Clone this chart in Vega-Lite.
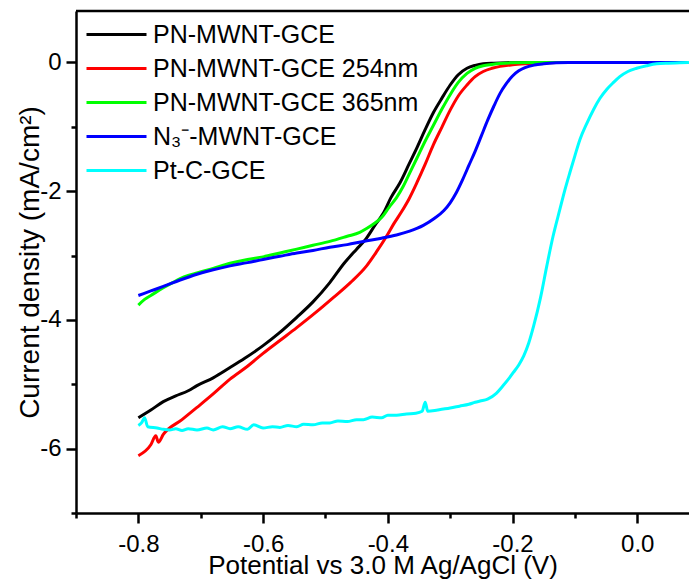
{
"$schema": "https://vega.github.io/schema/vega-lite/v6.json",
"width": 613, "height": 502,
"autosize": "none",
"padding": {"left": 76, "top": 11, "right": 0, "bottom": 67},
"background": "white",
"config": {"view": {"stroke": null}, "font": "Liberation Sans"},
"layer": [
{
"data": {"values": [
{"s":"PN-MWNT-GCE","E":-0.80,"j":-5.52},{"s":"PN-MWNT-GCE","E":-0.78,"j":-5.40},{"s":"PN-MWNT-GCE","E":-0.76,"j":-5.27},{"s":"PN-MWNT-GCE","E":-0.74,"j":-5.18},{"s":"PN-MWNT-GCE","E":-0.72,"j":-5.10},{"s":"PN-MWNT-GCE","E":-0.706,"j":-5.02},{"s":"PN-MWNT-GCE","E":-0.68,"j":-4.90},{"s":"PN-MWNT-GCE","E":-0.653,"j":-4.74},{"s":"PN-MWNT-GCE","E":-0.63,"j":-4.60},{"s":"PN-MWNT-GCE","E":-0.60,"j":-4.40},{"s":"PN-MWNT-GCE","E":-0.575,"j":-4.21},{"s":"PN-MWNT-GCE","E":-0.546,"j":-3.96},{"s":"PN-MWNT-GCE","E":-0.52,"j":-3.72},{"s":"PN-MWNT-GCE","E":-0.493,"j":-3.42},{"s":"PN-MWNT-GCE","E":-0.47,"j":-3.12},{"s":"PN-MWNT-GCE","E":-0.45,"j":-2.90},{"s":"PN-MWNT-GCE","E":-0.435,"j":-2.74},{"s":"PN-MWNT-GCE","E":-0.42,"j":-2.52},{"s":"PN-MWNT-GCE","E":-0.407,"j":-2.34},{"s":"PN-MWNT-GCE","E":-0.395,"j":-2.10},{"s":"PN-MWNT-GCE","E":-0.38,"j":-1.86},{"s":"PN-MWNT-GCE","E":-0.366,"j":-1.58},{"s":"PN-MWNT-GCE","E":-0.353,"j":-1.32},{"s":"PN-MWNT-GCE","E":-0.34,"j":-1.04},{"s":"PN-MWNT-GCE","E":-0.327,"j":-0.78},{"s":"PN-MWNT-GCE","E":-0.313,"j":-0.55},{"s":"PN-MWNT-GCE","E":-0.30,"j":-0.35},{"s":"PN-MWNT-GCE","E":-0.287,"j":-0.19},{"s":"PN-MWNT-GCE","E":-0.273,"j":-0.09},{"s":"PN-MWNT-GCE","E":-0.26,"j":-0.045},{"s":"PN-MWNT-GCE","E":-0.247,"j":-0.02},{"s":"PN-MWNT-GCE","E":-0.23,"j":-0.01},{"s":"PN-MWNT-GCE","E":-0.21,"j":-0.003},{"s":"PN-MWNT-GCE","E":-0.18,"j":0},{"s":"PN-MWNT-GCE","E":0.08,"j":0},

{"s":"PN-MWNT-GCE 254nm","E":-0.80,"j":-6.11},{"s":"PN-MWNT-GCE 254nm","E":-0.78,"j":-5.94},{"s":"PN-MWNT-GCE 254nm","E":-0.772,"j":-5.80},{"s":"PN-MWNT-GCE 254nm","E":-0.768,"j":-5.90},{"s":"PN-MWNT-GCE 254nm","E":-0.76,"j":-5.78},{"s":"PN-MWNT-GCE 254nm","E":-0.73,"j":-5.55},{"s":"PN-MWNT-GCE 254nm","E":-0.706,"j":-5.36},{"s":"PN-MWNT-GCE 254nm","E":-0.68,"j":-5.15},{"s":"PN-MWNT-GCE 254nm","E":-0.653,"j":-4.92},{"s":"PN-MWNT-GCE 254nm","E":-0.625,"j":-4.72},{"s":"PN-MWNT-GCE 254nm","E":-0.60,"j":-4.52},{"s":"PN-MWNT-GCE 254nm","E":-0.573,"j":-4.32},{"s":"PN-MWNT-GCE 254nm","E":-0.546,"j":-4.12},{"s":"PN-MWNT-GCE 254nm","E":-0.515,"j":-3.88},{"s":"PN-MWNT-GCE 254nm","E":-0.487,"j":-3.65},{"s":"PN-MWNT-GCE 254nm","E":-0.46,"j":-3.42},{"s":"PN-MWNT-GCE 254nm","E":-0.434,"j":-3.16},{"s":"PN-MWNT-GCE 254nm","E":-0.418,"j":-2.94},{"s":"PN-MWNT-GCE 254nm","E":-0.402,"j":-2.70},{"s":"PN-MWNT-GCE 254nm","E":-0.39,"j":-2.50},{"s":"PN-MWNT-GCE 254nm","E":-0.378,"j":-2.32},{"s":"PN-MWNT-GCE 254nm","E":-0.366,"j":-2.12},{"s":"PN-MWNT-GCE 254nm","E":-0.353,"j":-1.86},{"s":"PN-MWNT-GCE 254nm","E":-0.34,"j":-1.58},{"s":"PN-MWNT-GCE 254nm","E":-0.327,"j":-1.28},{"s":"PN-MWNT-GCE 254nm","E":-0.313,"j":-1.00},{"s":"PN-MWNT-GCE 254nm","E":-0.30,"j":-0.74},{"s":"PN-MWNT-GCE 254nm","E":-0.287,"j":-0.52},{"s":"PN-MWNT-GCE 254nm","E":-0.273,"j":-0.35},{"s":"PN-MWNT-GCE 254nm","E":-0.26,"j":-0.22},{"s":"PN-MWNT-GCE 254nm","E":-0.247,"j":-0.14},{"s":"PN-MWNT-GCE 254nm","E":-0.233,"j":-0.09},{"s":"PN-MWNT-GCE 254nm","E":-0.22,"j":-0.06},{"s":"PN-MWNT-GCE 254nm","E":-0.20,"j":-0.035},{"s":"PN-MWNT-GCE 254nm","E":-0.18,"j":-0.02},{"s":"PN-MWNT-GCE 254nm","E":-0.16,"j":-0.01},{"s":"PN-MWNT-GCE 254nm","E":-0.13,"j":0},{"s":"PN-MWNT-GCE 254nm","E":0.08,"j":0},

{"s":"PN-MWNT-GCE 365nm","E":-0.80,"j":-3.77},{"s":"PN-MWNT-GCE 365nm","E":-0.79,"j":-3.68},{"s":"PN-MWNT-GCE 365nm","E":-0.78,"j":-3.62},{"s":"PN-MWNT-GCE 365nm","E":-0.76,"j":-3.50},{"s":"PN-MWNT-GCE 365nm","E":-0.745,"j":-3.42},{"s":"PN-MWNT-GCE 365nm","E":-0.733,"j":-3.36},{"s":"PN-MWNT-GCE 365nm","E":-0.72,"j":-3.31},{"s":"PN-MWNT-GCE 365nm","E":-0.706,"j":-3.27},{"s":"PN-MWNT-GCE 365nm","E":-0.68,"j":-3.20},{"s":"PN-MWNT-GCE 365nm","E":-0.653,"j":-3.12},{"s":"PN-MWNT-GCE 365nm","E":-0.625,"j":-3.06},{"s":"PN-MWNT-GCE 365nm","E":-0.60,"j":-3.02},{"s":"PN-MWNT-GCE 365nm","E":-0.573,"j":-2.96},{"s":"PN-MWNT-GCE 365nm","E":-0.546,"j":-2.90},{"s":"PN-MWNT-GCE 365nm","E":-0.52,"j":-2.84},{"s":"PN-MWNT-GCE 365nm","E":-0.493,"j":-2.78},{"s":"PN-MWNT-GCE 365nm","E":-0.465,"j":-2.70},{"s":"PN-MWNT-GCE 365nm","E":-0.445,"j":-2.64},{"s":"PN-MWNT-GCE 365nm","E":-0.434,"j":-2.58},{"s":"PN-MWNT-GCE 365nm","E":-0.42,"j":-2.49},{"s":"PN-MWNT-GCE 365nm","E":-0.41,"j":-2.41},{"s":"PN-MWNT-GCE 365nm","E":-0.398,"j":-2.25},{"s":"PN-MWNT-GCE 365nm","E":-0.386,"j":-2.10},{"s":"PN-MWNT-GCE 365nm","E":-0.375,"j":-1.92},{"s":"PN-MWNT-GCE 365nm","E":-0.364,"j":-1.70},{"s":"PN-MWNT-GCE 365nm","E":-0.353,"j":-1.48},{"s":"PN-MWNT-GCE 365nm","E":-0.34,"j":-1.22},{"s":"PN-MWNT-GCE 365nm","E":-0.327,"j":-0.98},{"s":"PN-MWNT-GCE 365nm","E":-0.313,"j":-0.72},{"s":"PN-MWNT-GCE 365nm","E":-0.30,"j":-0.50},{"s":"PN-MWNT-GCE 365nm","E":-0.287,"j":-0.31},{"s":"PN-MWNT-GCE 365nm","E":-0.273,"j":-0.17},{"s":"PN-MWNT-GCE 365nm","E":-0.26,"j":-0.09},{"s":"PN-MWNT-GCE 365nm","E":-0.247,"j":-0.05},{"s":"PN-MWNT-GCE 365nm","E":-0.233,"j":-0.03},{"s":"PN-MWNT-GCE 365nm","E":-0.22,"j":-0.015},{"s":"PN-MWNT-GCE 365nm","E":-0.20,"j":-0.005},{"s":"PN-MWNT-GCE 365nm","E":-0.17,"j":0},{"s":"PN-MWNT-GCE 365nm","E":0.08,"j":0},

{"s":"N₃⁻-MWNT-GCE","E":-0.80,"j":-3.62},{"s":"N₃⁻-MWNT-GCE","E":-0.78,"j":-3.55},{"s":"N₃⁻-MWNT-GCE","E":-0.76,"j":-3.48},{"s":"N₃⁻-MWNT-GCE","E":-0.733,"j":-3.38},{"s":"N₃⁻-MWNT-GCE","E":-0.706,"j":-3.29},{"s":"N₃⁻-MWNT-GCE","E":-0.68,"j":-3.22},{"s":"N₃⁻-MWNT-GCE","E":-0.653,"j":-3.16},{"s":"N₃⁻-MWNT-GCE","E":-0.625,"j":-3.11},{"s":"N₃⁻-MWNT-GCE","E":-0.60,"j":-3.06},{"s":"N₃⁻-MWNT-GCE","E":-0.573,"j":-3.01},{"s":"N₃⁻-MWNT-GCE","E":-0.546,"j":-2.96},{"s":"N₃⁻-MWNT-GCE","E":-0.52,"j":-2.92},{"s":"N₃⁻-MWNT-GCE","E":-0.493,"j":-2.87},{"s":"N₃⁻-MWNT-GCE","E":-0.465,"j":-2.83},{"s":"N₃⁻-MWNT-GCE","E":-0.439,"j":-2.78},{"s":"N₃⁻-MWNT-GCE","E":-0.41,"j":-2.73},{"s":"N₃⁻-MWNT-GCE","E":-0.386,"j":-2.68},{"s":"N₃⁻-MWNT-GCE","E":-0.365,"j":-2.62},{"s":"N₃⁻-MWNT-GCE","E":-0.343,"j":-2.53},{"s":"N₃⁻-MWNT-GCE","E":-0.325,"j":-2.42},{"s":"N₃⁻-MWNT-GCE","E":-0.31,"j":-2.30},{"s":"N₃⁻-MWNT-GCE","E":-0.30,"j":-2.18},{"s":"N₃⁻-MWNT-GCE","E":-0.29,"j":-2.02},{"s":"N₃⁻-MWNT-GCE","E":-0.28,"j":-1.82},{"s":"N₃⁻-MWNT-GCE","E":-0.27,"j":-1.60},{"s":"N₃⁻-MWNT-GCE","E":-0.26,"j":-1.38},{"s":"N₃⁻-MWNT-GCE","E":-0.25,"j":-1.14},{"s":"N₃⁻-MWNT-GCE","E":-0.24,"j":-0.90},{"s":"N₃⁻-MWNT-GCE","E":-0.23,"j":-0.68},{"s":"N₃⁻-MWNT-GCE","E":-0.22,"j":-0.48},{"s":"N₃⁻-MWNT-GCE","E":-0.21,"j":-0.33},{"s":"N₃⁻-MWNT-GCE","E":-0.20,"j":-0.21},{"s":"N₃⁻-MWNT-GCE","E":-0.19,"j":-0.13},{"s":"N₃⁻-MWNT-GCE","E":-0.18,"j":-0.08},{"s":"N₃⁻-MWNT-GCE","E":-0.165,"j":-0.04},{"s":"N₃⁻-MWNT-GCE","E":-0.15,"j":-0.02},{"s":"N₃⁻-MWNT-GCE","E":-0.13,"j":-0.005},{"s":"N₃⁻-MWNT-GCE","E":-0.11,"j":0},{"s":"N₃⁻-MWNT-GCE","E":0.08,"j":0},

{"s":"Pt-C-GCE","E":-0.80,"j":-5.64},{"s":"Pt-C-GCE","E":-0.795,"j":-5.60},{"s":"Pt-C-GCE","E":-0.79,"j":-5.52},{"s":"Pt-C-GCE","E":-0.785,"j":-5.66},{"s":"Pt-C-GCE","E":-0.77,"j":-5.68},{"s":"Pt-C-GCE","E":-0.76,"j":-5.70},{"s":"Pt-C-GCE","E":-0.75,"j":-5.71},{"s":"Pt-C-GCE","E":-0.74,"j":-5.69},{"s":"Pt-C-GCE","E":-0.73,"j":-5.72},{"s":"Pt-C-GCE","E":-0.72,"j":-5.69},{"s":"Pt-C-GCE","E":-0.706,"j":-5.71},{"s":"Pt-C-GCE","E":-0.69,"j":-5.68},{"s":"Pt-C-GCE","E":-0.68,"j":-5.71},{"s":"Pt-C-GCE","E":-0.665,"j":-5.66},{"s":"Pt-C-GCE","E":-0.653,"j":-5.69},{"s":"Pt-C-GCE","E":-0.64,"j":-5.66},{"s":"Pt-C-GCE","E":-0.625,"j":-5.70},{"s":"Pt-C-GCE","E":-0.615,"j":-5.63},{"s":"Pt-C-GCE","E":-0.60,"j":-5.68},{"s":"Pt-C-GCE","E":-0.585,"j":-5.66},{"s":"Pt-C-GCE","E":-0.573,"j":-5.67},{"s":"Pt-C-GCE","E":-0.56,"j":-5.64},{"s":"Pt-C-GCE","E":-0.546,"j":-5.66},{"s":"Pt-C-GCE","E":-0.535,"j":-5.62},{"s":"Pt-C-GCE","E":-0.52,"j":-5.63},{"s":"Pt-C-GCE","E":-0.505,"j":-5.60},{"s":"Pt-C-GCE","E":-0.493,"j":-5.60},{"s":"Pt-C-GCE","E":-0.48,"j":-5.57},{"s":"Pt-C-GCE","E":-0.465,"j":-5.58},{"s":"Pt-C-GCE","E":-0.45,"j":-5.55},{"s":"Pt-C-GCE","E":-0.439,"j":-5.55},{"s":"Pt-C-GCE","E":-0.425,"j":-5.51},{"s":"Pt-C-GCE","E":-0.41,"j":-5.52},{"s":"Pt-C-GCE","E":-0.40,"j":-5.48},{"s":"Pt-C-GCE","E":-0.386,"j":-5.48},{"s":"Pt-C-GCE","E":-0.37,"j":-5.46},{"s":"Pt-C-GCE","E":-0.355,"j":-5.45},{"s":"Pt-C-GCE","E":-0.345,"j":-5.42},{"s":"Pt-C-GCE","E":-0.34,"j":-5.28},{"s":"Pt-C-GCE","E":-0.336,"j":-5.42},{"s":"Pt-C-GCE","E":-0.32,"j":-5.40},{"s":"Pt-C-GCE","E":-0.30,"j":-5.37},{"s":"Pt-C-GCE","E":-0.285,"j":-5.34},{"s":"Pt-C-GCE","E":-0.27,"j":-5.31},{"s":"Pt-C-GCE","E":-0.26,"j":-5.28},{"s":"Pt-C-GCE","E":-0.252,"j":-5.26},{"s":"Pt-C-GCE","E":-0.24,"j":-5.23},{"s":"Pt-C-GCE","E":-0.226,"j":-5.14},{"s":"Pt-C-GCE","E":-0.215,"j":-5.02},{"s":"Pt-C-GCE","E":-0.205,"j":-4.90},{"s":"Pt-C-GCE","E":-0.199,"j":-4.82},{"s":"Pt-C-GCE","E":-0.19,"j":-4.70},{"s":"Pt-C-GCE","E":-0.182,"j":-4.56},{"s":"Pt-C-GCE","E":-0.174,"j":-4.36},{"s":"Pt-C-GCE","E":-0.166,"j":-4.09},{"s":"Pt-C-GCE","E":-0.155,"j":-3.65},{"s":"Pt-C-GCE","E":-0.145,"j":-3.16},{"s":"Pt-C-GCE","E":-0.135,"j":-2.70},{"s":"Pt-C-GCE","E":-0.124,"j":-2.28},{"s":"Pt-C-GCE","E":-0.116,"j":-1.98},{"s":"Pt-C-GCE","E":-0.108,"j":-1.71},{"s":"Pt-C-GCE","E":-0.10,"j":-1.45},{"s":"Pt-C-GCE","E":-0.092,"j":-1.20},{"s":"Pt-C-GCE","E":-0.081,"j":-0.95},{"s":"Pt-C-GCE","E":-0.07,"j":-0.73},{"s":"Pt-C-GCE","E":-0.06,"j":-0.56},{"s":"Pt-C-GCE","E":-0.049,"j":-0.42},{"s":"Pt-C-GCE","E":-0.038,"j":-0.31},{"s":"Pt-C-GCE","E":-0.028,"j":-0.22},{"s":"Pt-C-GCE","E":-0.015,"j":-0.14},{"s":"Pt-C-GCE","E":-0.001,"j":-0.09},{"s":"Pt-C-GCE","E":0.015,"j":-0.05},{"s":"Pt-C-GCE","E":0.031,"j":-0.02},{"s":"Pt-C-GCE","E":0.05,"j":-0.01},{"s":"Pt-C-GCE","E":0.068,"j":-0.005},{"s":"Pt-C-GCE","E":0.083,"j":0}
]},
"mark": {"type": "line", "strokeWidth": 3, "interpolate": "monotone"},
"encoding": {
"x": {"field": "E", "type": "quantitative",
 "scale": {"domain": [-0.9, 0.083], "nice": false, "zero": false},
 "axis": {"orient": "bottom", "grid": false,
  "values": [-0.9,-0.8,-0.7,-0.6,-0.5,-0.4,-0.3,-0.2,-0.1,0.0],
  "labelExpr": "abs(round(datum.value*10)) % 2 == 1 ? '' : (datum.value < -0.001 ? '-' : '') + format(abs(datum.value), '.1f')",
  "tickSize": {"condition": {"test": "abs(round(datum.value*10)) % 2 == 1", "value": 5}, "value": 10},
  "tickWidth": 2.5, "tickColor": "black", "domainWidth": 2.5, "domainColor": "black",
  "labelFont": "Liberation Sans", "labelFontSize": 24, "labelColor": "black", "labelPadding": 9,
  "title": "Potential vs 3.0 M Ag/AgCl (V)", "titleFont": "Liberation Sans", "titleFontSize": 26, "titleFontWeight": "normal", "titleColor": "black", "titlePadding": -4}},
"y": {"field": "j", "type": "quantitative",
 "scale": {"domain": [-7, 0.8], "nice": false, "zero": false},
 "axis": {"grid": false,
  "values": [-7,-6,-5,-4,-3,-2,-1,0],
  "labelExpr": "abs(round(datum.value)) % 2 == 1 ? '' : (datum.value < 0 ? '-' : '') + format(abs(datum.value), 'd')",
  "tickSize": {"condition": {"test": "abs(round(datum.value)) % 2 == 1", "value": 5}, "value": 10},
  "tickWidth": 2.5, "tickColor": "black", "domainWidth": 2.5, "domainColor": "black",
  "labelFont": "Liberation Sans", "labelFontSize": 24, "labelColor": "black", "labelPadding": 5,
  "title": "Current density (mA/cm²)", "titleFont": "Liberation Sans", "titleFontSize": 28, "titleFontWeight": "normal", "titleColor": "black", "titlePadding": -5}},
"color": {"field": "s", "type": "nominal",
 "scale": {"domain": ["PN-MWNT-GCE","PN-MWNT-GCE 254nm","PN-MWNT-GCE 365nm","N₃⁻-MWNT-GCE","Pt-C-GCE"],
           "range": ["#000000","#ff0000","#00ff00","#0000ff","#00ffff"]},
 "legend": {"orient": "none", "legendX": 28, "legendY": 11, "title": null,
  "symbolType": "M-3,0H3", "symbolSize": 400, "symbolStrokeWidth": 3, "symbolOpacity": 1,
  "labelFont": "Liberation Sans", "labelFontSize": 25, "labelColor": "black", "labelOffset": 24, "labelLimit": 400,
  "rowPadding": 8, "padding": 0}}
}
},
{
"data": {"values": [{}]},
"mark": {"type": "rule", "strokeWidth": 2.5, "color": "black"},
"encoding": {"y": {"datum": 0.8}}
}
]
}
